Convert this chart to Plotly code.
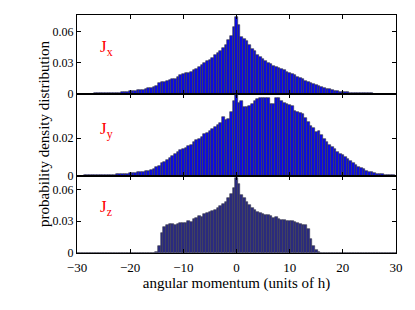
import plotly.graph_objects as go

# bin centres: -30 .. 30 step 0.5
x_centres = [round(-30 + 0.5 * i, 1) for i in range(121)]

jx = [0.0002, 0.0002, 0.0003, 0.0003, 0.0003, 0.0004, 0.0004, 0.0005, 0.0005, 0.0006, 0.0006,
      0.0007, 0.0008, 0.0009, 0.0010, 0.0012, 0.0013, 0.0015, 0.0018, 0.0021, 0.0025,
      0.0027, 0.0030, 0.0035, 0.0036, 0.0042, 0.0050, 0.0056, 0.0062, 0.0066, 0.0074,
      0.0105, 0.0112, 0.0118, 0.0125, 0.0135, 0.0141, 0.0148, 0.0165, 0.0182, 0.0195,
      0.0200, 0.0205, 0.0215, 0.0230, 0.0245, 0.0262, 0.0278, 0.0300, 0.0315, 0.0330,
      0.0350, 0.0378, 0.0398, 0.0420, 0.0448, 0.0475, 0.0520, 0.0560, 0.0650, 0.0740,
      0.0665, 0.0550, 0.0535, 0.0510, 0.0478, 0.0438, 0.0415, 0.0375, 0.0355, 0.0335,
      0.0318, 0.0302, 0.0290, 0.0275, 0.0262, 0.0250, 0.0238, 0.0228, 0.0215, 0.0205,
      0.0192, 0.0180, 0.0168, 0.0155, 0.0143, 0.0128, 0.0118, 0.0105, 0.0095, 0.0085,
      0.0075, 0.0065, 0.0058, 0.0050, 0.0044, 0.0038, 0.0032, 0.0027, 0.0023, 0.0020,
      0.0017, 0.0015, 0.0013, 0.0011, 0.0010, 0.0009, 0.0008, 0.0007, 0.0006, 0.0005,
      0.0005, 0.0004, 0.0004, 0.0003, 0.0003, 0.0003, 0.0002, 0.0002, 0.0002, 0.0002]

jy = [0.0002, 0.0002, 0.0002, 0.0003, 0.0003, 0.0003, 0.0004, 0.0004, 0.0005, 0.0005, 0.0005,
      0.0006, 0.0006, 0.0007, 0.0007, 0.0008, 0.0008, 0.0009, 0.0010, 0.0012, 0.0014,
      0.0015, 0.0017, 0.0019, 0.0020, 0.0023, 0.0025, 0.0028, 0.0034, 0.0038, 0.0045,
      0.0055, 0.0070, 0.0075, 0.0085, 0.0095, 0.0108, 0.0115, 0.0128, 0.0135, 0.0144,
      0.0150, 0.0160, 0.0165, 0.0182, 0.0190, 0.0198, 0.0205, 0.0220, 0.0228, 0.0238,
      0.0248, 0.0260, 0.0268, 0.0280, 0.0310, 0.0297, 0.0302, 0.0337, 0.0396, 0.0429,
      0.0387, 0.0396, 0.0366, 0.0362, 0.0368, 0.0378, 0.0395, 0.0405, 0.0410, 0.0412,
      0.0412, 0.0412, 0.0380, 0.0378, 0.0410, 0.0414, 0.0398, 0.0387, 0.0380, 0.0373,
      0.0372, 0.0342, 0.0338, 0.0331, 0.0325, 0.0306, 0.0285, 0.0265, 0.0255, 0.0234,
      0.0238, 0.0216, 0.0198, 0.0180, 0.0166, 0.0153, 0.0140, 0.0126, 0.0118, 0.0112,
      0.0100, 0.0090, 0.0078, 0.0068, 0.0058, 0.0050, 0.0042, 0.0036, 0.0028, 0.0022,
      0.0019, 0.0016, 0.0013, 0.0011, 0.0009, 0.0007, 0.0005, 0.0004, 0.0003, 0.0002]

jz = [0.0, 0.0, 0.0, 0.0, 0.0, 0.0, 0.0, 0.0, 0.0, 0.0, 0.0,
      0.0, 0.0, 0.0, 0.0, 0.0, 0.0, 0.0, 0.0, 0.0, 0.0,
      0.0, 0.0, 0.0, 0.0, 0.0, 0.0, 0.0, 0.0, 0.0, 0.0006,
      0.0066, 0.0185, 0.0245, 0.0264, 0.0270, 0.0276, 0.0268, 0.0270, 0.0280, 0.0286,
      0.0280, 0.0302, 0.0295, 0.0324, 0.0330, 0.0345, 0.0340, 0.0370, 0.0375, 0.0390,
      0.0395, 0.0405, 0.0420, 0.0440, 0.0460, 0.0480, 0.0520, 0.0560, 0.0616, 0.0707,
      0.0650, 0.0547, 0.0520, 0.0480, 0.0450, 0.0427, 0.0410, 0.0390, 0.0375, 0.0370,
      0.0362, 0.0358, 0.0345, 0.0330, 0.0335, 0.0324, 0.0315, 0.0308, 0.0305, 0.0302,
      0.0298, 0.0295, 0.0282, 0.0270, 0.0268, 0.0264, 0.0223, 0.0129, 0.0066, 0.0025,
      0.0006, 0.0, 0.0, 0.0, 0.0, 0.0, 0.0, 0.0, 0.0, 0.0,
      0.0, 0.0, 0.0, 0.0, 0.0, 0.0, 0.0, 0.0, 0.0, 0.0,
      0.0, 0.0, 0.0, 0.0, 0.0, 0.0, 0.0, 0.0, 0.0, 0.0]

x_ticks = [-30, -20, -10, 0, 10, 20, 30]
x_ticklabels = ["\u221230", "\u221220", "\u221210", "0", "10", "20", "30"]
y1_ticks, y1_labels = [0, 0.03, 0.06], ["0", "0.03", "0.06"]
y2_ticks, y2_labels = [0, 0.02], ["0", "0.02"]
y3_ticks, y3_labels = [0, 0.03, 0.06], ["0", "0.03", "0.06"]
panel_labels = ["J<sub>x</sub>", "J<sub>y</sub>", "J<sub>z</sub>"]

FONT = "Liberation Serif, Times New Roman, serif"

fig = go.Figure()
fig.add_trace(go.Bar(x=x_centres, y=jx, width=0.5, xaxis="x", yaxis="y",
                     marker=dict(color="#0a0ae6", line=dict(color="#3a3a3a", width=0.6))))
fig.add_trace(go.Bar(x=x_centres, y=jy, width=0.5, xaxis="x2", yaxis="y2",
                     marker=dict(color="#0a0ae6", line=dict(color="#3a3a3a", width=0.6))))
fig.add_trace(go.Bar(x=x_centres, y=jz, width=0.5, xaxis="x3", yaxis="y3",
                     marker=dict(color="#2a2a80", line=dict(color="#3a3a4a", width=0.6))))

H = 238.0
d3 = [0.0, 77 / H]
d2 = [77 / H, 159 / H]
d1 = [159 / H, 1.0]

common_x = dict(range=[-30, 30], tickvals=x_ticks, ticktext=x_ticklabels, ticks="inside",
                ticklen=4, tickcolor="black", showline=True, linecolor="black", linewidth=1,
                mirror="ticks", showgrid=False, zeroline=False)
common_y = dict(ticks="inside", ticklen=4, tickcolor="black", showline=True, linecolor="black",
                linewidth=1, mirror="ticks", showgrid=False, zeroline=False)

fig.update_layout(
    width=415, height=310,
    margin=dict(l=77, r=17, t=15, b=57),
    paper_bgcolor="white", plot_bgcolor="white",
    showlegend=False, bargap=0,
    font=dict(family=FONT, size=12, color="black"),
    xaxis=dict(common_x, anchor="y", showticklabels=False),
    xaxis2=dict(common_x, anchor="y2", showticklabels=False),
    xaxis3=dict(common_x, anchor="y3", showticklabels=True, tickfont=dict(size=13),
                ticklabelstandoff=2,
                title=dict(text="angular momentum (units of h)", font=dict(size=15), standoff=0)),
    yaxis=dict(common_y, domain=d1, range=[0, 0.0763], tickvals=y1_ticks, ticktext=y1_labels),
    yaxis2=dict(common_y, domain=d2, range=[0, 0.0433], tickvals=y2_ticks, ticktext=y2_labels),
    yaxis3=dict(common_y, domain=d3, range=[0, 0.0726], tickvals=y3_ticks, ticktext=y3_labels),
)

fig.add_annotation(text="probability density distribution", xref="paper", yref="paper",
                   x=-0.135, y=0.5, textangle=-90, showarrow=False,
                   font=dict(family=FONT, size=15, color="black"))

for lab, xr, yr, yv in zip(panel_labels, ["x", "x2", "x3"], ["y", "y2", "y3"],
                           [0.044, 0.0245, 0.042]):
    fig.add_annotation(text=lab, x=-26.0, y=yv, xref=xr, yref=yr, showarrow=False,
                       xanchor="left", font=dict(family=FONT, size=17, color="red"))

fig.write_html("out.html", post_script="document.body.style.margin='0';",
               config={"displayModeBar": False})
